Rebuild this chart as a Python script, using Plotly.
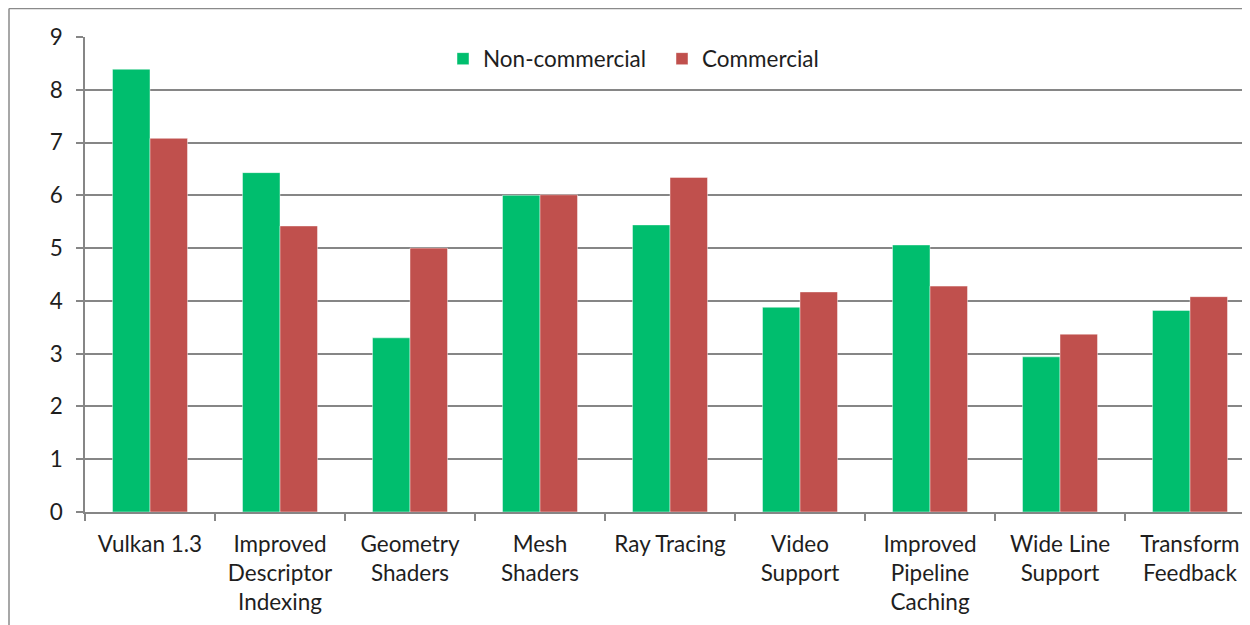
import plotly.graph_objects as go

categories = ["Vulkan 1.3", "Improved<br>Descriptor<br>Indexing", "Geometry<br>Shaders",
              "Mesh<br>Shaders", "Ray Tracing", "Video<br>Support",
              "Improved<br>Pipeline<br>Caching", "Wide Line<br>Support", "Transform<br>Feedback"]
non_commercial = [8.39, 6.43, 3.30, 6.00, 5.44, 3.88, 5.06, 2.94, 3.82]
commercial = [7.08, 5.42, 5.00, 6.01, 6.34, 4.17, 4.28, 3.37, 4.08]
y_ticks = [0, 1, 2, 3, 4, 5, 6, 7, 8, 9]

GREEN = "#00BE6E"
RED = "#C0504D"
GRID = "#868686"
FONT = "Lato"
FS = 22.5
TXT = "#1e1e1e"

fig = go.Figure()
fig.add_trace(go.Bar(x=categories, y=non_commercial, name="Non-commercial",
                     marker=dict(color=GREEN, line=dict(color="rgba(255,255,255,0.45)", width=1))))
fig.add_trace(go.Bar(x=categories, y=commercial, name="Commercial",
                     marker=dict(color=RED, line=dict(color="rgba(255,255,255,0.45)", width=1))))

# page body has an 8px margin, so the figure is 8px smaller and offset
W, H = 1242, 617
L, T, B = 77, 29, 113
pw = W - L
ph = H - T - B
cat_w = 130.0

fig.update_layout(
    width=W, height=H,
    margin=dict(l=L, r=0, t=T, b=B, pad=0),
    paper_bgcolor="white", plot_bgcolor="white",
    barmode="group", bargap=55 / 130, bargroupgap=0,
    font=dict(family=FONT, size=FS, color=TXT),
    legend=dict(orientation="h", x=(654 - L) / pw, xanchor="center",
                y=(504 - 51) / ph, yanchor="middle",
                font=dict(family=FONT, size=FS, color=TXT),
                bgcolor="rgba(0,0,0,0)", itemwidth=30, traceorder="normal",
                entrywidth=174),
    xaxis=dict(type="category", range=[-0.5, -0.5 + pw / cat_w],
               showline=True, linecolor=GRID, linewidth=1.5,
               ticks="outside", tickson="boundaries", ticklen=7, tickcolor=GRID, tickwidth=1.5,
               showgrid=False, tickfont=dict(family=FONT, size=FS, color=TXT),
               ticklabelstandoff=11),
    yaxis=dict(range=[0, 9], tickvals=y_ticks, showline=True, linecolor=GRID, linewidth=1.5,
               ticks="outside", ticklen=7, tickcolor=GRID, tickwidth=1.5,
               showgrid=True, gridcolor=GRID, gridwidth=1.5, zeroline=False,
               tickfont=dict(family=FONT, size=FS, color=TXT),
               ticklabelstandoff=9),
    showlegend=True,
)

# outer chart frame (left and top edges visible; right/bottom off-canvas)
x_left = (1.0 - L) / pw
y_top = (ph + T - 0.5) / ph
fig.add_shape(type="line", xref="paper", yref="paper", x0=x_left, x1=x_left,
              y0=y_top, y1=-1, line=dict(color="#8a8a8a", width=1.5))
fig.add_shape(type="line", xref="paper", yref="paper", x0=x_left, x1=2,
              y0=y_top, y1=y_top, line=dict(color="#8a8a8a", width=1.5))

fig.write_html("out.html")
